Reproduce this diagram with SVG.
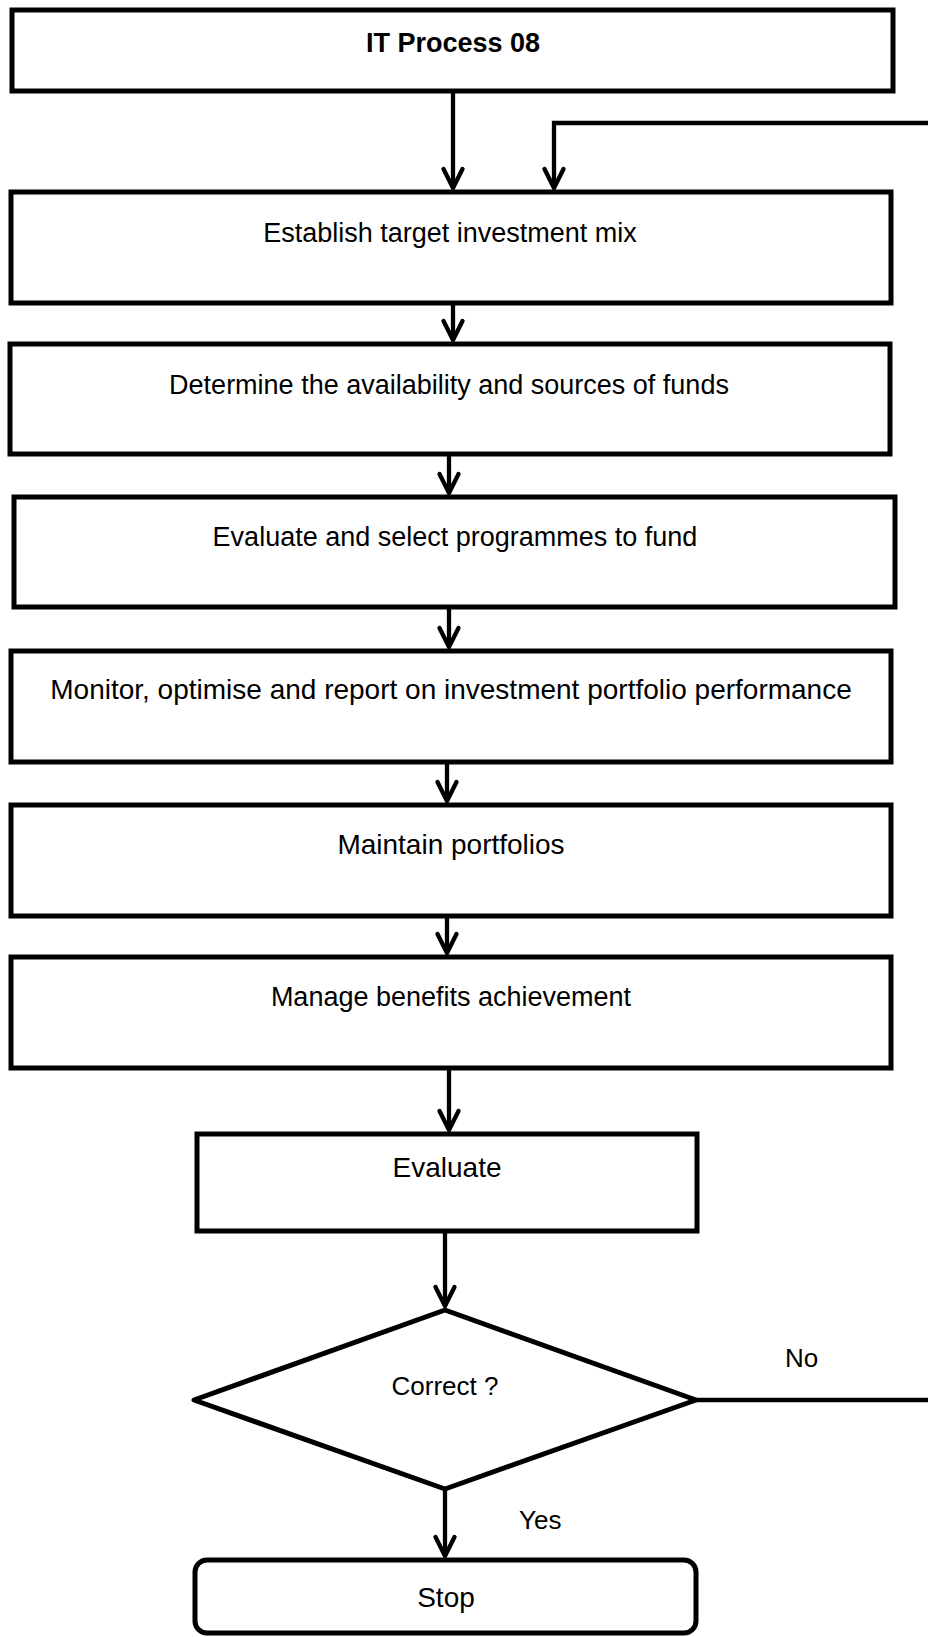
<svg xmlns="http://www.w3.org/2000/svg" width="928" height="1637" viewBox="0 0 928 1637">
  <style>
    .box { fill: #ffffff; stroke: #000000; stroke-width: 5; stroke-linejoin: miter; }
    .diamond { stroke-linejoin: round; }
    .lbl { font-family: "Liberation Sans", Arial, sans-serif; font-size: 27px; fill: #000000; text-anchor: middle; }
    .title { font-weight: bold; }
    .edge { fill: none; stroke: #000000; stroke-width: 4.3; stroke-linejoin: miter; }
    .tag { font-family: "Liberation Sans", Arial, sans-serif; font-size: 26px; fill: #000000; }
  </style>
  <defs>
    <marker id="arrow" markerUnits="userSpaceOnUse" markerWidth="30" markerHeight="30" viewBox="-24 -15 30 30" refX="0" refY="0" orient="auto" overflow="visible">
      <path d="M-19,-9.5 L0,0 L-19,9.5" fill="none" stroke="#000000" stroke-width="4.3" stroke-linecap="round" stroke-linejoin="round"/>
    </marker>
  </defs>
  <rect width="928" height="1637" fill="#ffffff"/>

  <!-- connectors -->
  <g id="connectors">
    <path class="edge" d="M453,92 V188" marker-end="url(#arrow)"/>
    <!-- return path from the "No" branch back to the first step -->
    <path class="edge" d="M696,1400 H940 V123 H554 V188" marker-end="url(#arrow)"/>
    <path class="edge" d="M453,303 V340" marker-end="url(#arrow)"/>
    <path class="edge" d="M449,455 V493" marker-end="url(#arrow)"/>
    <path class="edge" d="M449,607 V647" marker-end="url(#arrow)"/>
    <path class="edge" d="M447,762 V801" marker-end="url(#arrow)"/>
    <path class="edge" d="M447,916 V953" marker-end="url(#arrow)"/>
    <path class="edge" d="M449,1068 V1130" marker-end="url(#arrow)"/>
    <path class="edge" d="M445,1231 V1306" marker-end="url(#arrow)"/>
    <path class="edge" d="M445,1489 V1556" marker-end="url(#arrow)"/>
    <text class="tag" x="785" y="1367">No</text>
    <text class="tag" x="519" y="1529">Yes</text>
  </g>

  <g id="it-process-08">
    <rect class="box" x="12" y="10" width="881" height="81"/>
    <text class="lbl title" x="453" y="52">IT Process 08</text>
  </g>

  <g id="establish-mix">
    <rect class="box" x="11" y="192" width="880" height="111"/>
    <text class="lbl" x="450" y="242">Establish target investment mix</text>
  </g>

  <g id="determine-funds">
    <rect class="box" x="10" y="344" width="880" height="110"/>
    <text class="lbl" x="449" y="394">Determine the availability and sources of funds</text>
  </g>

  <g id="select-programmes">
    <rect class="box" x="14" y="497" width="881" height="110"/>
    <text class="lbl" x="455" y="546">Evaluate and select programmes to fund</text>
  </g>

  <g id="monitor-portfolio">
    <rect class="box" x="11" y="651" width="880" height="111"/>
    <text class="lbl" x="451" y="699" style="font-size:28px">Monitor, optimise and report on investment portfolio performance</text>
  </g>

  <g id="maintain-portfolios">
    <rect class="box" x="11" y="805" width="880" height="111"/>
    <text class="lbl" x="451" y="854" style="font-size:28px">Maintain portfolios</text>
  </g>

  <g id="manage-benefits">
    <rect class="box" x="11" y="957" width="880" height="111"/>
    <text class="lbl" x="451" y="1006">Manage benefits achievement</text>
  </g>

  <g id="evaluate">
    <rect class="box" x="197" y="1134" width="500" height="97"/>
    <text class="lbl" x="447" y="1177" style="font-size:28px">Evaluate</text>
  </g>

  <g id="correct-decision">
    <path class="box diamond" d="M445,1310 L696,1400 L445,1489 L194,1400 Z"/>
    <text class="lbl" x="445" y="1395" style="font-size:26px">Correct ?</text>
  </g>

  <g id="stop">
    <rect class="box" x="195" y="1560" width="501" height="73" rx="12" ry="12"/>
    <text class="lbl" x="446" y="1607" style="font-size:28px">Stop</text>
  </g>
</svg>
